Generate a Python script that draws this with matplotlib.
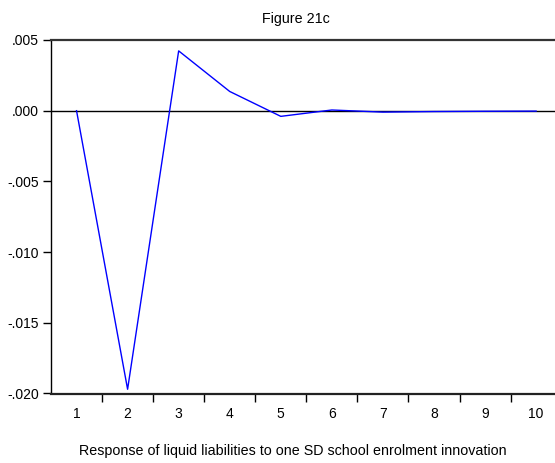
import matplotlib
matplotlib.use("Agg")
import matplotlib.pyplot as plt
from matplotlib.ticker import FixedLocator, NullFormatter

periods = [1, 2, 3, 4, 5, 6, 7, 8, 9, 10]
response = [0.0, -0.0197, 0.00423, 0.00136, -0.0004, 0.00005, -0.0001, -0.00006, -0.00004, -0.00003]
ytick_vals = [0.005, 0.0, -0.005, -0.010, -0.015, -0.020]
ytick_labels = [".005", ".000", "-.005", "-.010", "-.015", "-.020"]
title = "Figure 21c"
xlabel = "Response of liquid liabilities to one SD school enrolment innovation"

plt.rcParams['font.family'] = ['Liberation Sans', 'DejaVu Sans']

fig = plt.figure(figsize=(5.55, 4.63), dpi=100)
ax = fig.add_axes([51/555, 1 - 393.5/463, (555-51)/555, (393.5-40)/463])

ax.plot(periods, response, color='#0000ff', lw=1.0)
ax.axhline(0, color='black', lw=1.0, zorder=1)

ax.set_xlim(0.5, 10.37)
ax.set_ylim(-0.020, 0.005)

ax.set_yticks(ytick_vals)
ax.set_yticklabels(ytick_labels, fontsize=10)
ax.set_xticks(periods)
ax.set_xticklabels([str(p) for p in periods], fontsize=10)
ax.tick_params(axis='x', which='major', length=0, pad=10)
ax.xaxis.set_minor_locator(FixedLocator([p + 0.5 for p in periods]))
ax.xaxis.set_minor_formatter(NullFormatter())
ax.tick_params(axis='x', which='minor', length=6, width=1, direction='out')
ax.tick_params(axis='y', length=6, width=1, direction='out', pad=2.5)

ax.spines['right'].set_visible(False)
ax.spines['top'].set_linewidth(1.6)
ax.spines['top'].set_color('#333333')
ax.spines['bottom'].set_linewidth(1.6)
ax.spines['bottom'].set_color('#222222')
ax.spines['left'].set_linewidth(1.0)

fig.text(296/555, 1 - 23/463, title, ha='center', va='baseline', fontsize=10.3)
fig.text(293/555, 1 - 455/463, xlabel, ha='center', va='baseline', fontsize=10.3)

fig.savefig("out.png", dpi=100)
